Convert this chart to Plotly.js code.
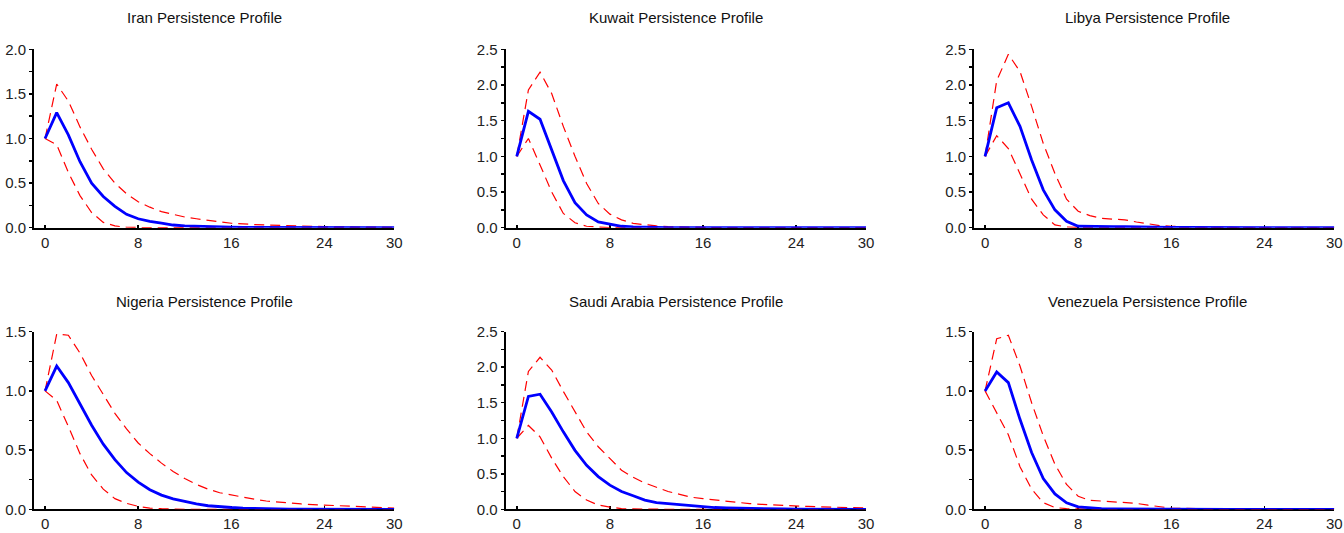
<!DOCTYPE html>
<html>
<head>
<meta charset="utf-8">
<script src="https://cdn.plot.ly/plotly-3.0.1.min.js"></script>
<style>html,body{margin:0;padding:0;background:#fff;}#chart{width:1344px;height:533px;}</style>
</head>
<body>
<div id="chart"></div>
<script>
// horizons 0..30
const horizon = Array.from({length: 31}, (_, i) => i);

const titles = ["Iran Persistence Profile", "Kuwait Persistence Profile", "Libya Persistence Profile",
                "Nigeria Persistence Profile", "Saudi Arabia Persistence Profile", "Venezuela Persistence Profile"];

const xTickVals = [0, 8, 16, 24, 30];
const yMax = [2.0, 2.5, 2.5, 1.5, 2.5, 1.5];

// Iran
const iranPP    = [1.00,1.29,1.04,0.74,0.50,0.35,0.24,0.15,0.10,0.07,0.05,0.03,0.02,0.015,0.01,0.007,0.005,0.004,0.003,0.002,0.002,0.001,0.001,0.001,0.001,0,0,0,0,0,0];
const iranUpper = [1.00,1.61,1.42,1.13,0.88,0.66,0.50,0.38,0.29,0.23,0.18,0.15,0.12,0.10,0.08,0.065,0.05,0.04,0.035,0.03,0.025,0.02,0.017,0.015,0.012,0.01,0.009,0.008,0.007,0.006,0.005];
const iranLower = [1.00,0.93,0.62,0.36,0.17,0.06,0.02,0.005,0.002,0,0,0,0,0,0,0,0,0,0,0,0,0,0,0,0,0,0,0,0,0,0];

// Kuwait
const kuwaitPP    = [1.00,1.63,1.52,1.09,0.66,0.35,0.18,0.08,0.045,0.02,0.01,0.005,0.003,0.002,0.001,0,0,0,0,0,0,0,0,0,0,0,0,0,0,0,0];
const kuwaitUpper = [1.00,1.93,2.18,1.88,1.42,1.00,0.62,0.34,0.19,0.11,0.06,0.04,0.025,0.015,0.01,0.005,0.003,0.002,0.001,0,0,0,0,0,0,0,0,0,0,0,0];
const kuwaitLower = [1.00,1.25,0.88,0.50,0.20,0.07,0.02,0.005,0,0,0,0,0,0,0,0,0,0,0,0,0,0,0,0,0,0,0,0,0,0,0];

// Libya
const libyaPP    = [1.00,1.68,1.75,1.42,0.95,0.53,0.25,0.09,0.02,0.015,0.015,0.015,0.015,0.015,0.012,0.01,0.005,0.003,0.002,0.001,0,0,0,0,0,0,0,0,0,0,0];
const libyaUpper = [1.00,2.06,2.43,2.19,1.70,1.18,0.76,0.40,0.23,0.17,0.13,0.12,0.11,0.08,0.05,0.03,0.02,0.01,0.008,0.005,0.003,0.002,0.001,0,0,0,0,0,0,0,0];
const libyaLower = [1.00,1.29,1.11,0.76,0.40,0.18,0.04,0.01,0,0,0,0,0,0,0,0,0,0,0,0,0,0,0,0,0,0,0,0,0,0,0];

// Nigeria
const nigeriaPP    = [1.00,1.21,1.07,0.89,0.71,0.55,0.42,0.31,0.23,0.165,0.12,0.088,0.065,0.045,0.03,0.02,0.015,0.01,0.007,0.005,0.003,0.002,0.002,0.001,0.001,0,0,0,0,0,0];
const nigeriaUpper = [1.00,1.48,1.47,1.32,1.13,0.97,0.81,0.68,0.56,0.47,0.39,0.32,0.26,0.21,0.17,0.14,0.12,0.10,0.085,0.07,0.06,0.05,0.045,0.04,0.035,0.03,0.025,0.02,0.018,0.015,0.01];
const nigeriaLower = [1.00,0.92,0.70,0.47,0.29,0.17,0.09,0.05,0.025,0.01,0.005,0,0,0,0,0,0,0,0,0,0,0,0,0,0,0,0,0,0,0,0];

// Saudi Arabia
const saudiPP    = [1.00,1.59,1.62,1.37,1.09,0.83,0.62,0.46,0.34,0.25,0.19,0.13,0.095,0.08,0.06,0.045,0.035,0.025,0.02,0.015,0.01,0.007,0.005,0.004,0.003,0.002,0.002,0.001,0.001,0,0];
const saudiUpper = [1.00,1.94,2.14,1.96,1.66,1.37,1.09,0.88,0.71,0.55,0.45,0.37,0.31,0.25,0.21,0.17,0.15,0.13,0.11,0.095,0.08,0.07,0.06,0.055,0.05,0.04,0.035,0.03,0.025,0.02,0.018];
const saudiLower = [1.00,1.18,1.02,0.72,0.46,0.25,0.13,0.06,0.03,0.01,0.005,0,0,0,0,0,0,0,0,0,0,0,0,0,0,0,0,0,0,0,0];

// Venezuela
const venezuelaPP    = [1.00,1.16,1.07,0.76,0.48,0.26,0.13,0.055,0.02,0.01,0.005,0.004,0.003,0.002,0.001,0,0,0,0,0,0,0,0,0,0,0,0,0,0,0,0];
const venezuelaUpper = [1.00,1.44,1.47,1.21,0.90,0.62,0.38,0.21,0.11,0.075,0.07,0.065,0.06,0.05,0.035,0.02,0.01,0.008,0.005,0.003,0.002,0.001,0,0,0,0,0,0,0,0,0];
const venezuelaLower = [1.00,0.81,0.63,0.36,0.17,0.056,0.015,0.005,0,0,0,0,0,0,0,0,0,0,0,0,0,0,0,0,0,0,0,0,0,0,0];

const pp    = [iranPP, kuwaitPP, libyaPP, nigeriaPP, saudiPP, venezuelaPP];
const upper = [iranUpper, kuwaitUpper, libyaUpper, nigeriaUpper, saudiUpper, venezuelaUpper];
const lower = [iranLower, kuwaitLower, libyaLower, nigeriaLower, saudiLower, venezuelaLower];

const W = 1344, H = 533;
const colX = [[34, 394.3], [505.7, 866], [974, 1334.3]];
const rowY = [[49.3, 227.7], [331.7, 509.3]];
const titleCX = [204.5, 676, 1147];
const titleCY = [18, 301];

const FONT = "Liberation Sans, Arial, sans-serif";
const traces = [];
const layout = {
  width: W, height: H,
  margin: {l: 0, r: 0, t: 0, b: 0},
  paper_bgcolor: "#fff", plot_bgcolor: "#fff",
  showlegend: false,
  font: {family: FONT, size: 15, color: "#000"},
  annotations: []
};

for (let k = 0; k < 6; k++) {
  const r = Math.floor(k / 3), c = k % 3;
  const sfx = k === 0 ? "" : String(k + 1);
  const xa = "x" + sfx, ya = "y" + sfx;
  const dashStyle = {color: "#ff0000", width: 1.2, dash: "10px,6px"};
  traces.push({x: horizon, y: upper[k], xaxis: xa, yaxis: ya, mode: "lines", line: dashStyle, hoverinfo: "skip"});
  traces.push({x: horizon, y: lower[k], xaxis: xa, yaxis: ya, mode: "lines", line: dashStyle, hoverinfo: "skip"});
  traces.push({x: horizon, y: pp[k], xaxis: xa, yaxis: ya, mode: "lines", line: {color: "#0000ff", width: 2.8}, hoverinfo: "skip"});

  layout["xaxis" + sfx] = {
    domain: [colX[c][0] / W, colX[c][1] / W],
    anchor: ya,
    range: [-0.95, 30],
    tickmode: "array", tickvals: xTickVals, ticktext: xTickVals.map(String),
    showgrid: false, zeroline: false,
    showline: true, linecolor: "#000", linewidth: 2,
    ticks: "inside", ticklen: 3, tickwidth: 1.5, tickcolor: "#000",
    tickfont: {family: FONT, size: 15, color: "#222"},
    ticklabeloverflow: "allow",
    layer: "below traces", fixedrange: true
  };
  layout["yaxis" + sfx] = {
    domain: [1 - rowY[r][1] / H, 1 - rowY[r][0] / H],
    anchor: xa,
    range: [0, yMax[k]],
    dtick: 0.5, tick0: 0, tickformat: ".1f",
    showgrid: false, zeroline: false,
    showline: true, linecolor: "#000", linewidth: 2,
    ticks: "outside", ticklen: 3, tickwidth: 1.5, tickcolor: "#000",
    minor: {dtick: 0.25, ticks: "outside", ticklen: 3, tickwidth: 1.5, tickcolor: "#000", showgrid: false},
    tickfont: {family: FONT, size: 15, color: "#222"},
    ticklabelstandoff: 0,
    ticklabeloverflow: "allow",
    layer: "below traces", fixedrange: true
  };
  layout.annotations.push({
    text: titles[k], xref: "paper", yref: "paper",
    x: titleCX[c] / W, y: 1 - titleCY[r] / H,
    xanchor: "center", yanchor: "middle", showarrow: false,
    font: {family: FONT, size: 15, color: "#111"}
  });
}

Plotly.newPlot("chart", traces, layout, {displayModeBar: false, staticPlot: true});
</script>
</body>
</html>
